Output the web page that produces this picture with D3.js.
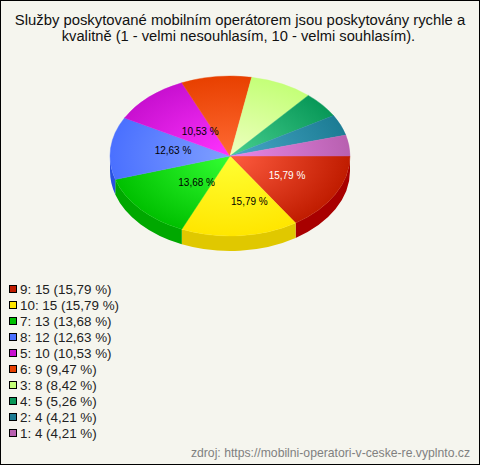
<!DOCTYPE html>
<html><head><meta charset="utf-8">
<script src="https://cdn.jsdelivr.net/npm/d3@7/dist/d3.min.js"></script>
<style>html,body{margin:0;padding:0;background:#f5f5ee}svg{display:block}</style>
</head><body><svg id="c" width="480" height="465"></svg>
<script>
const titleLines = ["Služby poskytované mobilním operátorem jsou poskytovány rychle a","kvalitně (1 - velmi nesouhlasím, 10 - velmi souhlasím)."];
const categories = ["9","10","7","8","5","6","3","4","2","1"];
const counts = [15,15,13,12,10,9,8,5,4,4];
const percents = [15.79,15.79,13.68,12.63,10.53,9.47,8.42,5.26,4.21,4.21];
const legendColors = ["#c01c00","#ffe600","#00c000","#4a70ff","#c810d0","#e84000","#c4ff78","#089858","#1c7c94","#b860b0"];
const innerColors = ["#ff5c40","#ffff33","#33ff33","#80a0ff","#ff33ff","#ff6a33","#eeffc0","#48d090","#48a8c8","#e888e8"];
const sideColors = ["#a80000","#e0c800","#00a800","#2850e0","#a000a8","#c03000","#a0d060","#087848","#106078","#985090"];
const source = "zdroj: https://mobilni-operatori-v-ceske-re.vyplnto.cz";
const labelNudgeX = [-2.5,1.5,2.5,0.5,1];
const labelNudgeY = [0,5,-1,-2,4];

const svg = d3.select("#c");
const W=480,H=465,cx=230,cy=156,rx=120,ry=80,depth=15;
svg.append("rect").attr("width",W).attr("height",H).attr("fill","#f5f5ee");
svg.append("rect").attr("x",.5).attr("y",.5).attr("width",W-1).attr("height",H-1).attr("fill","none").attr("stroke","#000");

const font="Liberation Sans, Arial, sans-serif";
svg.append("g").selectAll("text").data(titleLines).join("text")
  .attr("x",(d,i)=>i?238.5:240).attr("y",(d,i)=>25+i*15.5).attr("text-anchor","middle")
  .attr("font-family",font).attr("font-size",(d,i)=>i?14.7:14.85).attr("fill","#111").text(d=>d);

const pie=d3.pie().sort(null).value(d=>d).startAngle(0).endAngle(2*Math.PI);
const arcs=pie(counts);
const sx=d3.scaleLinear().domain([-1,1]).range([cx-rx,cx+rx]);
const sy=d3.scaleLinear().domain([-1,1]).range([cy-ry,cy+ry]);
const pt=(a,r=1,dy=0)=>[sx(r*Math.cos(a)),sy(r*Math.sin(a))+dy];

const defs=svg.append("defs");
arcs.forEach((d,i)=>{
  const g=defs.append("radialGradient").attr("id","g"+i).attr("gradientUnits","userSpaceOnUse")
    .attr("cx",0).attr("cy",0).attr("r",1)
    .attr("gradientTransform",`translate(${cx},${cy}) scale(${rx},${ry})`);
  g.append("stop").attr("offset",0).attr("stop-color",innerColors[i]);
  g.append("stop").attr("offset",1).attr("stop-color",legendColors[i]);
});

// side wall: visible lower half of the rim
const sideLayer=svg.append("g");
arcs.forEach((d,i)=>{
  const a0=Math.max(d.startAngle,0),a1=Math.min(d.endAngle,Math.PI);
  if(a0>=a1)return;
  const p0=pt(a0),p1=pt(a1),q1=pt(a1,1,depth),q0=pt(a0,1,depth);
  sideLayer.append("path").attr("fill",sideColors[i]).attr("d",
    `M${p0}A${rx},${ry} 0 0 1 ${p1}L${q1}A${rx},${ry} 0 0 0 ${q0}Z`);
});
// top slices
const topLayer=svg.append("g");
arcs.forEach((d,i)=>{
  const p0=pt(d.startAngle),p1=pt(d.endAngle),large=d.endAngle-d.startAngle>Math.PI?1:0;
  topLayer.append("path").attr("fill",`url(#g${i})`).attr("stroke",`url(#g${i})`).attr("stroke-width",.4).attr("d",
    `M${cx},${cy}L${p0}A${rx},${ry} 0 ${large} 1 ${p1}Z`);
});
// labels for slices of at least 10 %
arcs.forEach((d,i)=>{
  if(percents[i]<10)return;
  const a=(d.startAngle+d.endAngle)/2;
  const [x,y]=pt(a,.5);
  svg.append("text").attr("x",x+1+12*Math.abs(Math.sin(a))+labelNudgeX[i]).attr("y",y+4+labelNudgeY[i])
    .attr("text-anchor","middle").attr("font-family",font).attr("font-size",10)
    .attr("fill",i===0?"#fff":"#000").text(String(percents[i]).replace(".",",")+" %");
});
// legend
const row=d3.scaleBand().domain(categories).range([279,439]);
const lg=svg.append("g").selectAll("g").data(categories).join("g")
  .attr("transform",c=>`translate(0,${row(c)})`);
lg.append("rect").attr("x",9.5).attr("y",6.5).attr("width",7).attr("height",7)
  .attr("fill",(c,i)=>legendColors[i]).attr("stroke","#000");
lg.append("text").attr("x",20).attr("y",15).attr("font-family",font).attr("font-size",13.4)
  .attr("fill","#222").text((c,i)=>`${c}: ${counts[i]} (${String(percents[i]).replace(".",",")} %)`);
svg.append("text").attr("x",470).attr("y",457).attr("text-anchor","end").attr("font-family",font)
  .attr("font-size",12.2).attr("fill","#808080").text(source);
</script></body></html>
